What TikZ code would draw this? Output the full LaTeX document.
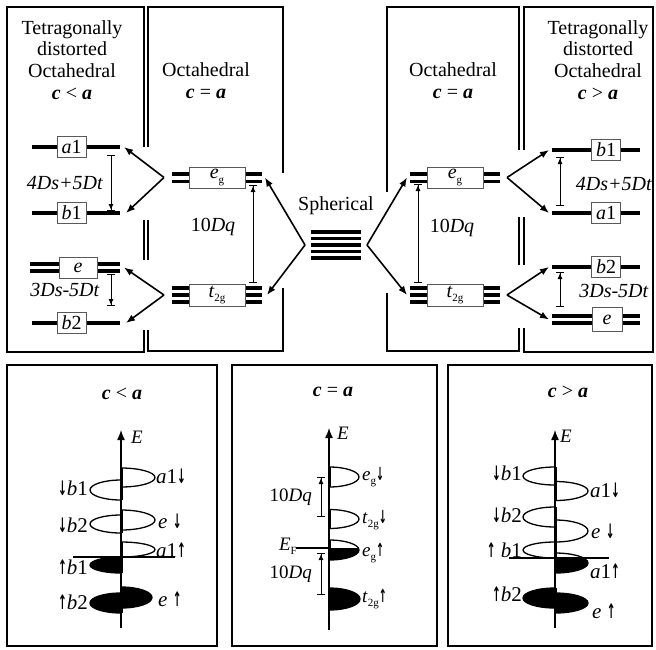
\documentclass[tikz,border=0pt]{standalone}
\usepackage{fontspec}
\usepackage{graphicx}
\setmainfont{Liberation Serif}
\newfontfamily\arrowfont{DejaVu Sans}
\usetikzlibrary{arrows.meta}
\newcommand{\lowsub}[1]{\raisebox{-0.45ex}{\fontsize{11}{11}\selectfont #1}}
\newcommand{\bi}[1]{\textbf{\textit{#1}}}
\newcommand{\dn}{\scalebox{0.5}[0.95]{\arrowfont\bfseries ↓}}
\newcommand{\up}{\scalebox{0.5}[0.95]{\arrowfont\bfseries ↑}}
\newcommand{\lobeR}[5][]{%
  \draw[lobe,#1] (#2,#3-#4) arc[start angle=-90,end angle=90,x radius=#5,y radius=#4] -- cycle;
  \draw[line width=3pt] (#2,#3-#4) -- (#2,#3+#4);}
\newcommand{\lobeL}[5][]{%
  \draw[lobe,#1] (#2,#3+#4) arc[start angle=90,end angle=270,x radius=#5,y radius=#4] -- cycle;
  \draw[line width=3pt] (#2,#3-#4) -- (#2,#3+#4);}
\newcommand{\lobeRcut}[5]{%
  \begin{scope}
    \clip (#1-2,#5) rectangle (#1+#4+3,#2+#3+3);
    \fill (#1,#2-#3) arc[start angle=-90,end angle=90,x radius=#4,y radius=#3] -- cycle;
  \end{scope}
  \lobeR{#1}{#2}{#3}{#4}}
\begin{document}
\begin{tikzpicture}[x=1pt,y=-1pt,font=\fontsize{20}{21.7}\selectfont,
  panel/.style={line width=1.4pt},
  lvl/.style={line width=3.3pt},
  lbox/.style={draw=black!65,line width=0.7pt,fill=white,inner sep=0pt,minimum height=21pt,minimum width=29pt},
  conn/.style={line width=1.6pt,-{Latex[length=9pt,width=7pt]}},
  dimarr/.style={line width=1pt,{Bar[width=8pt]}-{Latex[length=6pt,width=5pt]Bar[width=8pt]}},
  lobe/.style={line width=1.3pt},
  ttl/.style={align=center,inner sep=0pt},
  lbl/.style={inner sep=0pt,font=\fontsize{21}{23}\selectfont},
  slbl/.style={inner sep=0pt,font=\fontsize{19}{21}\selectfont},
  axisarr/.style={line width=1.3pt,-{Latex[length=10pt,width=8pt]}}]
\path[use as bounding box] (0,0) rectangle (656,649);

% ---------- top panels ----------
\draw[panel] (144,147) -- (144,7) -- (7,7) -- (7,352) -- (144,352) -- (144,330);
\draw[panel] (144,220) -- (144,260);
\draw[panel] (148,147) -- (148,7) -- (283,7) -- (283,173);
\draw[panel] (148,220) -- (148,260);
\draw[panel] (148,330) -- (148,351) -- (283,351) -- (283,288);
\draw[panel] (387,192) -- (387,7) -- (519,7) -- (519,150);
\draw[panel] (519,217) -- (519,265);
\draw[panel] (387,293) -- (387,351) -- (519,351) -- (519,328);
\draw[panel] (524,150) -- (524,7) -- (653,7) -- (653,352) -- (524,352) -- (524,328);
\draw[panel] (524,217) -- (524,265);

% titles
\node[ttl] (TL) at (72,60) {Tetragonally\\distorted\\Octahedral\\\bi{c} < \bi{a}};
\node[ttl] (TC1) at (206,81) {Octahedral\\\bi{c} = \bi{a}};
\node[ttl] (TC2) at (453,81) {Octahedral\\\bi{c} = \bi{a}};
\node[ttl] (TR) at (598,60) {Tetragonally\\distorted\\Octahedral\\\bi{c} > \bi{a}};
\node (SPH) at (336,206) {Spherical};

% left levels (c<a)
\draw[lvl] (32,147) -- (120,147);
\node[lbox] (Na1L) at (71.5,147) {\textit{a}1};
\draw[lvl] (32,213) -- (120,213);
\node[lbox] (Nb1L) at (71.5,213) {\textit{b}1};
\draw[lvl] (30,264) -- (120,264);
\draw[lvl] (30,271) -- (120,271);
\node[lbox,minimum width=38pt] (NeL) at (78,267.5) {\textit{e}};
\draw[lvl] (32,323) -- (120,323);
\node[lbox] (Nb2L) at (71.5,323) {\textit{b}2};
\draw[dimarr] (111,155) -- (111,211);
\node (D1L) at (65,183) {\textit{4Ds+5Dt}};
\draw[dimarr] (111,274) -- (111,306);
\node (D2L) at (65,290) {\textit{3Ds-5Dt}};

% centre-left octahedral
\draw[lvl] (172,174) -- (262,174);
\draw[lvl] (172,181.5) -- (262,181.5);
\node[lbox,minimum width=56pt] (EgL) at (217,177.5) {\textit{e}\lowsub{g}};
\draw[lvl] (172,288) -- (262,288);
\draw[lvl] (172,295) -- (262,295);
\draw[lvl] (172,302) -- (262,302);
\node[lbox,minimum width=56pt,minimum height=22pt] (TgL) at (217,295) {\textit{t}\lowsub{2g}};
\draw[dimarr] (253,283) -- (253,185);
\node (DqL) at (213,227) {10\textit{Dq}};

% centre-right octahedral
\draw[lvl] (410,174) -- (500,174);
\draw[lvl] (410,181.5) -- (500,181.5);
\node[lbox,minimum width=56pt] (EgR) at (455,177.5) {\textit{e}\lowsub{g}};
\draw[lvl] (410,288) -- (500,288);
\draw[lvl] (410,295) -- (500,295);
\draw[lvl] (410,302) -- (500,302);
\node[lbox,minimum width=56pt,minimum height=22pt] (TgR) at (455,295) {\textit{t}\lowsub{2g}};
\draw[dimarr] (418,283) -- (418,184);
\node (DqR) at (452,228) {10\textit{Dq}};

% spherical
\foreach \yy in {232,238.5,245,251.5,258} \draw[lvl] (311,\yy) -- (361,\yy);

% right levels (c>a)
\draw[lvl] (552,150) -- (640,150);
\node[lbox] (Nb1R) at (606,150) {\textit{b}1};
\draw[lvl] (552,213) -- (640,213);
\node[lbox] (Na1R) at (606,213) {\textit{a}1};
\draw[lvl] (552,267) -- (640,267);
\node[lbox] (Nb2R) at (606,267) {\textit{b}2};
\draw[lvl] (552,316) -- (640,316);
\draw[lvl] (552,323) -- (640,323);
\node[lbox,minimum width=30pt,minimum height=24pt] (NeR) at (607,319.5) {\textit{e}};
\draw[dimarr] (560,206) -- (560,157);
\node (D1R) at (614,184) {\textit{4Ds+5Dt}};
\draw[dimarr] (560,307) -- (560,272);
\node (D2R) at (614,291) {\textit{3Ds-5Dt}};

% connector points
\coordinate (LVu) at (164,177.5);
\coordinate (LVd) at (164,295);
\coordinate (LA1e) at (124,147);
\coordinate (LB1e) at (126,213);
\coordinate (LEe) at (124,267.5);
\coordinate (LB2e) at (126,323);
\coordinate (SphL) at (305,245);
\coordinate (SphR) at (367,245);
\coordinate (CLeg) at (265,177.5);
\coordinate (CLtg) at (267,295);
\coordinate (CReg) at (407,177.5);
\coordinate (CRtg) at (407,295);
\coordinate (RVu) at (507,177.5);
\coordinate (RVd) at (507,295);
\coordinate (RB1e) at (549,150);
\coordinate (RA1e) at (549,213);
\coordinate (RB2e) at (549,267);
\coordinate (REe) at (549,319.5);

\draw[conn] (LVu) -- (LA1e);
\draw[conn] (LVu) -- (LB1e);
\draw[conn] (LVd) -- (LEe);
\draw[conn] (LVd) -- (LB2e);
\draw[conn] (SphL) -- (CLeg);
\draw[conn] (SphL) -- (CLtg);
\draw[conn] (SphR) -- (CReg);
\draw[conn] (SphR) -- (CRtg);
\draw[conn] (RVu) -- (RB1e);
\draw[conn] (RVu) -- (RA1e);
\draw[conn] (RVd) -- (RB2e);
\draw[conn] (RVd) -- (REe);

% ---------- bottom panels ----------
\draw[panel] (7,365) rectangle (217,646);
\draw[panel] (232,365) rectangle (437,646);
\draw[panel] (448,365) rectangle (652,646);
\node (B1t) at (122,394) {\bi{c} < \bi{a}};
\node (B2t) at (333,392) {\bi{c} = \bi{a}};
\node (B3t) at (568,392) {\bi{c} > \bi{a}};

% panel 1
\coordinate (A1b) at (121,628);
\coordinate (A1t) at (121,430);
\draw[axisarr] (A1b) -- (A1t);
\node[slbl] (E1) at (137,437) {\textit{E}};
\lobeR{121}{477.5}{9.5}{34}
\lobeL{121}{490}{10}{31}
\lobeR{121}{520}{10}{34}
\lobeL{121}{524}{9}{31}
\lobeR{121}{549.5}{7.5}{34}
\lobeL[fill=black]{121}{565}{8}{31}
\lobeR[fill=black]{121}{597.5}{10.5}{31}
\lobeL[fill=black]{121}{603}{10}{31}
\coordinate (F1a) at (73,557);
\coordinate (F1b) at (175,557);
\draw[line width=1.3pt] (F1a) -- (F1b);
\node[lbl,anchor=west] (p1a1d) at (156,476) {\textit{a}1\dn};
\node[lbl,anchor=east] (p1b1d) at (88,488) {\dn\textit{b}1};
\node[lbl,anchor=west] (p1ed) at (158,521) {\textit{e} \dn};
\node[lbl,anchor=east] (p1b2d) at (88,525) {\dn\textit{b}2};
\node[lbl,anchor=west] (p1a1u) at (156,550) {\textit{a}1\up};
\node[lbl,anchor=east] (p1b1u) at (88,567) {\up\textit{b}1};
\node[lbl,anchor=east] (p1b2u) at (88,602) {\up\textit{b}2};
\node[lbl,anchor=west] (p1eu) at (158,599) {\textit{e} \up};

% panel 2
\coordinate (A2b) at (329,630);
\coordinate (A2t) at (329,428);
\draw[axisarr] (A2b) -- (A2t);
\node[slbl] (E2) at (343,433) {\textit{E}};
\lobeR{329}{477}{10}{30}
\lobeR{329}{519}{9.5}{30}
\lobeRcut{329}{550}{10}{30}{548}
\lobeR[fill=black]{329}{599}{11}{31}
\coordinate (F2a) at (296,548);
\coordinate (F2b) at (329,548);
\draw[line width=1.3pt] (F2a) -- (F2b);
\node[slbl,anchor=east] (EF) at (297,546) {\textit{E}\lowsub{F}};
\draw[dimarr] (321,517) -- (321,477);
\node[slbl,anchor=east] (Dq1) at (312,497) {10\textit{Dq}};
\draw[dimarr] (321,595) -- (321,553);
\node[slbl,anchor=east] (Dq2) at (312,574) {10\textit{Dq}};
\node[slbl,anchor=west] (p2egd) at (362,477) {\textit{e}\lowsub{g}\dn};
\node[slbl,anchor=west] (p2tgd) at (362,520) {\textit{t}\lowsub{2g}\dn};
\node[slbl,anchor=west] (p2egu) at (362,553) {\textit{e}\lowsub{g}\up};
\node[slbl,anchor=west] (p2tgu) at (362,599) {\textit{t}\lowsub{2g}\up};

% panel 3
\coordinate (A3b) at (555,628);
\coordinate (A3t) at (555,430);
\draw[axisarr] (A3b) -- (A3t);
\node[slbl] (E3) at (566,436) {\textit{E}};
\lobeL{555}{476}{9}{32}
\lobeR{555}{491}{9.5}{33}
\lobeL{555}{517}{10}{32}
\lobeR{555}{531}{11}{33}
\lobeL{555}{550}{8}{32}
\lobeRcut{555}{563}{10}{33}{558}
\lobeL[fill=black]{555}{598}{10}{32}
\lobeR[fill=black]{555}{603}{10}{33}
\coordinate (F3a) at (509,558);
\coordinate (F3b) at (609,558);
\draw[line width=1.3pt] (F3a) -- (F3b);
\node[lbl,anchor=east] (p3b1d) at (522,473) {\dn\textit{b}1};
\node[lbl,anchor=west] (p3a1d) at (590,490) {\textit{a}1\dn};
\node[lbl,anchor=east] (p3b2d) at (522,515) {\dn\textit{b}2};
\node[lbl,anchor=west] (p3ed) at (591,531) {\textit{e} \dn};
\node[lbl,anchor=east] (p3b1u) at (522,550) {\up{} \textit{b}1};
\node[lbl,anchor=west] (p3a1u) at (590,571) {\textit{a}1\up};
\node[lbl,anchor=east] (p3b2u) at (522,594) {\up\textit{b}2};
\node[lbl,anchor=west] (p3eu) at (592,611) {\textit{e} \up};
\end{tikzpicture}
\end{document}
